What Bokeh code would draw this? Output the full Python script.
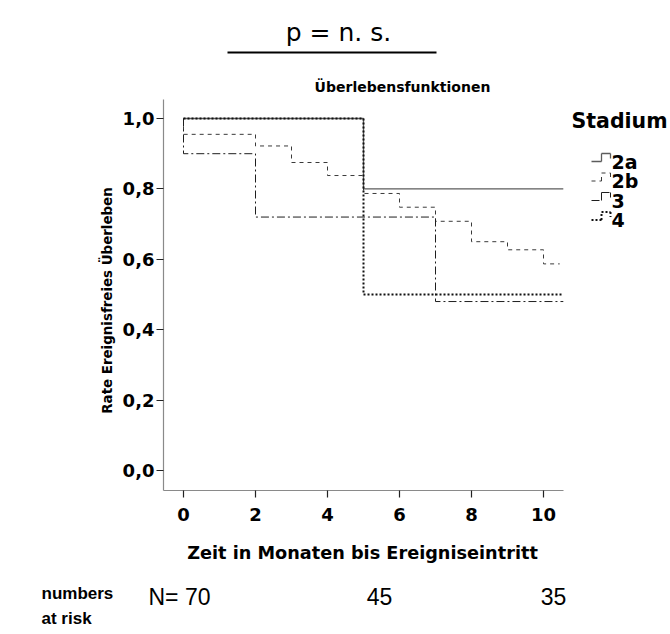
import math
from bokeh.plotting import figure
from bokeh.models import Range1d, FixedTicker, Label, Arrow, ColumnDataSource
from bokeh.embed import file_html
from bokeh.resources import INLINE

# Kaplan-Meier estimates per stage (time in months, event-free survival rate)
groups = ["2a", "2b", "3", "4"]
times_2a = [0, 5, 10.55]
surv_2a = [1.0, 0.80, 0.80]
times_2b = [0, 0, 2, 3, 4, 5, 6, 7, 8, 9, 10, 10.45]
surv_2b = [1.0, 0.955, 0.922, 0.875, 0.838, 0.787, 0.748, 0.708, 0.650, 0.627, 0.587, 0.587]
times_3 = [0, 0, 2, 7, 10.55]
surv_3 = [1.0, 0.90, 0.72, 0.48, 0.48]
times_4 = [0, 5, 10.55]
surv_4 = [1.0, 0.50, 0.50]

x_ticks = [0, 2, 4, 6, 8, 10]
y_ticks = [0.0, 0.2, 0.4, 0.6, 0.8, 1.0]
y_tick_labels = ["0,0", "0,2", "0,4", "0,6", "0,8", "1,0"]
at_risk = [70, 45, 35]

series = {
    "2a": (times_2a, surv_2a),
    "2b": (times_2b, surv_2b),
    "3": (times_3, surv_3),
    "4": (times_4, surv_4),
}

styles = {
    "2a": dict(line_color="#5c5c5c", line_width=1.3, line_dash="solid"),
    "2b": dict(line_color="#3a3a3a", line_width=1.0, line_dash="4 4"),
    "3": dict(line_color="#1e1e1e", line_width=1.0, line_dash="8 3 2 3"),
    "4": dict(line_color="#111111", line_width=2.0, line_dash="2 2"),
}

# canvas and axes-box geometry (pixels)
W, H = 670, 634
BOX_L, BOX_R, BOX_T, BOX_B = 163, 563, 99, 490
X_ZERO_PX, X_UNIT = 183.0, 36.0      # pixel of t=0, pixels per month
Y_ZERO_PX, Y_UNIT = 470.0, 352.0     # pixel of rate 0, pixels per unit rate


def dx(px):
    return (px - X_ZERO_PX) / X_UNIT


def dy(py):
    return (Y_ZERO_PX - py) / Y_UNIT


# the plotting frame spans the whole canvas; axes are pinned to the box edges
p = figure(
    width=W, height=H,
    x_range=Range1d(dx(0), dx(W)),
    y_range=Range1d(dy(H), dy(0)),
    output_backend="svg", toolbar_location=None,
    min_border=0,
)
p.outline_line_color = None
p.grid.visible = False
p.background_fill_color = "white"
p.border_fill_color = "white"

AX_FONT = "DejaVu Sans"
p.xaxis.ticker = FixedTicker(ticks=x_ticks)
p.yaxis.ticker = FixedTicker(ticks=y_ticks)
p.yaxis.major_label_overrides = {t: s for t, s in zip(y_ticks, y_tick_labels)}
for ax in (p.xaxis, p.yaxis):
    ax.axis_line_color = "#8a8a8a"
    ax.axis_line_width = 1.2
    ax.major_tick_line_color = "#222222"
    ax.major_tick_line_width = 1.2
    ax.major_tick_in = 0
    ax.minor_tick_line_color = None
    ax.major_label_text_font = AX_FONT
    ax.major_label_text_font_style = "bold"
    ax.major_label_text_font_size = "18px"
    ax.major_label_text_color = "black"

p.xaxis.fixed_location = dy(BOX_B)
p.xaxis.bounds = (dx(BOX_L), dx(BOX_R))
p.xaxis.major_tick_out = 7
p.xaxis.major_label_standoff = 10

p.yaxis.fixed_location = dx(BOX_L)
p.yaxis.bounds = (dy(BOX_B), dy(BOX_T))
p.yaxis.major_tick_out = 7
p.yaxis.major_label_standoff = 2


def add_text(px, py, text, font=AX_FONT, size="18px", style="bold",
             align="left", baseline="middle", angle=0.0):
    p.add_layout(Label(x=dx(px), y=dy(py), text=text, text_font=font,
                       text_font_style=style, text_font_size=size,
                       text_align=align, text_baseline=baseline,
                       angle=angle, text_color="black"))


# axis titles
add_text(362, 552, "Zeit in Monaten bis Ereigniseintritt", size="17.7px", align="center")
add_text(107, 300, "Rate Ereignisfreies Überleben", size="13.4px", align="center",
         angle=math.pi / 2)

# survival step curves
for g in groups:
    t, s = series[g]
    p.step(t, s, mode="after", **styles[g])

# chart title
add_text(402, 86, "Überlebensfunktionen", size="14px", align="center")

# legend
add_text(571, 120, "Stadium", size="20.5px")
row_y = [161, 180.5, 200, 219.5]
icon_x = 591
icon_shape = [((0, 0), (10, 0)), ((10, 0), (10, -8)), ((10, -8), (19, -8)), ((19, -8), (19, -3))]
for g, ry in zip(groups, row_y):
    segs = dict(x0=[], y0=[], x1=[], y1=[])
    for (ax0, ay0), (ax1, ay1) in icon_shape:
        segs["x0"].append(dx(icon_x + ax0))
        segs["y0"].append(dy(ry + ay0))
        segs["x1"].append(dx(icon_x + ax1))
        segs["y1"].append(dy(ry + ay1))
    p.add_layout(Arrow(end=None, source=ColumnDataSource(segs),
                       x_start="x0", y_start="y0", x_end="x1", y_end="y1",
                       **styles[g]))
    add_text(611, ry, g, size="19px")

# significance note with underline
add_text(338, 32, "p = n. s.", size="25px", style="normal", align="center",
         baseline="alphabetic")
p.add_layout(Arrow(end=None, x_start=dx(227), y_start=dy(52), x_end=dx(436), y_end=dy(52),
                   line_color="black", line_width=2))

# numbers at risk
TXT_FONT = "Liberation Sans"
add_text(41, 593, "numbers", font=TXT_FONT, size="17px")
add_text(41, 618, "at risk", font=TXT_FONT, size="17px")
risk_px = [(148, "left"), (379, "center"), (553, "center")]
for i, (n, (px, align)) in enumerate(zip(at_risk, risk_px)):
    txt = f"N= {n}" if i == 0 else str(n)
    add_text(px, 596, txt, font=TXT_FONT, size="23px", style="normal", align=align)

open("out.html", "w").write(file_html(p, INLINE))
